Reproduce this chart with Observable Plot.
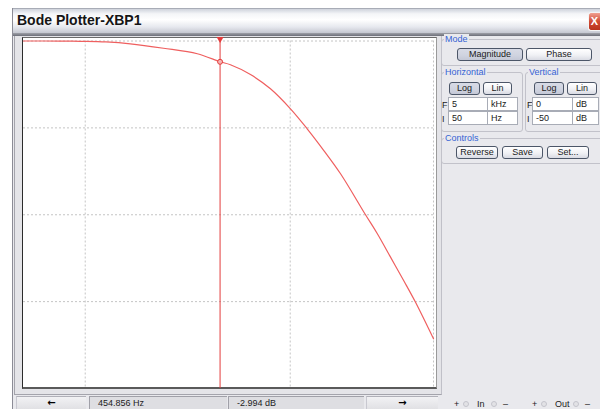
<!DOCTYPE html>
<html><head><meta charset="utf-8">
<script src="https://cdn.jsdelivr.net/npm/d3@7"></script>
<script src="https://cdn.jsdelivr.net/npm/@observablehq/plot@0.6"></script>
<style>
html,body{margin:0;padding:0;width:600px;height:409px;overflow:hidden;background:#fff;font-family:"Liberation Sans",Arial,sans-serif;}
.a{position:absolute;box-sizing:border-box;}
#win{left:12px;top:8px;width:600px;height:420px;background:#e9e9ed;border-left:1px solid #8c8c96;}
#title{left:13px;top:8px;width:600px;height:25px;background:linear-gradient(#cfd3dc,#f4f5f8 20%,#ffffff 45%,#e6e8ee 75%,#c4c7d0);border-top:1px solid #a8acb6;}
#tband{left:13px;top:33px;width:600px;height:3px;background:linear-gradient(#9ea0a8,#6c6e78);}
#titletext{left:17px;top:12px;font-weight:bold;font-size:14px;color:#151515;white-space:nowrap;}
#close{left:588px;top:12px;width:12px;height:19px;border-radius:3px 0 0 3px;background:linear-gradient(#f0a090,#d04a34 50%,#b8321e);border:1px solid #f4f4f4;border-right:none;color:#fff;font-weight:bold;font-size:11px;line-height:16px;text-align:center;}
#outer{left:14px;top:36px;width:428px;height:359px;border-left:1px solid #a4a4ac;border-bottom:1px solid #a4a4ac;border-right:1px solid #c0c0c8;background:#e4e4e8;}
#plotbox{left:22px;top:37px;width:415px;height:352px;background:#fff;border-left:1px solid #2c2c2c;border-top:1px solid #6a6a6a;border-right:1px solid #9a9a9a;border-bottom:2px solid #5a5a5a;}
#chart{position:absolute;left:23px;top:37px;}
.grp{position:absolute;box-sizing:border-box;border:1px solid #c2c2ca;border-radius:3px;}
.lbl{position:absolute;font-size:9px;color:#3563d4;background:#e9e9ed;padding:0 1px;white-space:nowrap;line-height:10px;}
.btn{position:absolute;box-sizing:border-box;border:1px solid #4c5668;border-radius:3px;background:linear-gradient(#ffffff,#f0f1f5 55%,#d9dbe3);font-size:9px;color:#1a1a1a;text-align:center;line-height:11px;white-space:nowrap;}
.btn.on{background:linear-gradient(#d8dbe6,#cfd3df 60%,#c4c8d6);}
.inp{position:absolute;box-sizing:border-box;background:#fff;border:1px solid #a8acb6;font-size:9px;color:#1a1a1a;line-height:12px;padding-left:3px;white-space:nowrap;}
.t{position:absolute;font-size:9px;color:#1a1a1a;white-space:nowrap;line-height:10px;}
.bb{position:absolute;box-sizing:border-box;top:396px;height:16px;background:linear-gradient(#f2f2f4,#dcdce0);border-top:1px solid #b0b0b8;border-left:1px solid #c8c8d0;font-size:10px;line-height:12px;white-space:nowrap;}
.rd{position:absolute;box-sizing:border-box;top:396px;height:16px;background:#dedee2;border-top:1px solid #a0a0a8;border-left:1px solid #a0a0a8;font-size:9px;line-height:12px;color:#222;white-space:nowrap;}
.dot{position:absolute;width:6px;height:6px;border-radius:50%;border:1px solid #c4c4cc;background:#e2e2e6;box-sizing:border-box;}
</style></head>
<body>
<div id="win" class="a"></div>
<div id="title" class="a"></div>
<div id="tband" class="a"></div>
<div id="titletext" class="a">Bode Plotter-XBP1</div>
<div id="close" class="a">X</div>
<div id="outer" class="a"></div>
<div id="plotbox" class="a"></div>
<div id="chart"></div>

<!-- right panel -->
<div class="grp" style="left:441px;top:39px;width:170px;height:27px;"></div>
<div class="lbl" style="left:444px;top:34px;">Mode</div>
<div class="btn on" style="left:457px;top:48px;width:66px;height:13px;">Magnitude</div>
<div class="btn" style="left:526px;top:48px;width:66px;height:13px;">Phase</div>

<div class="grp" style="left:441px;top:72px;width:82px;height:60px;"></div>
<div class="lbl" style="left:444px;top:67px;">Horizontal</div>
<div class="grp" style="left:525px;top:72px;width:86px;height:60px;"></div>
<div class="lbl" style="left:528px;top:67px;">Vertical</div>

<div class="btn on" style="left:449px;top:82px;width:31px;height:13px;">Log</div>
<div class="btn" style="left:483px;top:82px;width:29px;height:13px;">Lin</div>
<div class="btn on" style="left:534px;top:82px;width:30px;height:13px;">Log</div>
<div class="btn" style="left:567px;top:82px;width:30px;height:13px;">Lin</div>

<div class="t" style="left:442px;top:100px;">F</div>
<div class="inp" style="left:448px;top:97px;width:40px;height:14px;">5</div>
<div class="inp" style="left:487px;top:97px;width:31px;height:14px;">kHz</div>
<div class="t" style="left:442px;top:114px;">I</div>
<div class="inp" style="left:448px;top:111px;width:40px;height:14px;">50</div>
<div class="inp" style="left:487px;top:111px;width:31px;height:14px;">Hz</div>

<div class="t" style="left:527px;top:100px;">F</div>
<div class="inp" style="left:532px;top:97px;width:41px;height:14px;">0</div>
<div class="inp" style="left:572px;top:97px;width:27px;height:14px;">dB</div>
<div class="t" style="left:527px;top:114px;">I</div>
<div class="inp" style="left:532px;top:111px;width:41px;height:14px;">-50</div>
<div class="inp" style="left:572px;top:111px;width:27px;height:14px;">dB</div>

<div class="grp" style="left:441px;top:138px;width:170px;height:26px;"></div>
<div class="lbl" style="left:444px;top:133px;">Controls</div>
<div class="btn" style="left:456px;top:146px;width:42px;height:13px;">Reverse</div>
<div class="btn" style="left:502px;top:146px;width:41px;height:13px;">Save</div>
<div class="btn" style="left:547px;top:146px;width:42px;height:13px;">Set...</div>

<!-- bottom bar -->
<div class="bb" style="left:16px;width:70px;text-align:center;font-weight:bold;font-family:'DejaVu Sans';">&#8592;</div>
<div class="rd" style="left:89px;width:138px;padding-left:8px;">454.856 Hz</div>
<div class="rd" style="left:228px;width:136px;padding-left:8px;">-2.994 dB</div>
<div class="bb" style="left:366px;width:72px;text-align:center;font-weight:bold;font-family:'DejaVu Sans';">&#8594;</div>
<div class="t" style="left:454px;top:399px;">+</div>
<div class="dot" style="left:463px;top:401px;"></div>
<div class="t" style="left:477px;top:399px;">In</div>
<div class="dot" style="left:491px;top:401px;"></div>
<div class="t" style="left:503px;top:399px;">&#8211;</div>
<div class="t" style="left:532px;top:399px;">+</div>
<div class="dot" style="left:541px;top:401px;"></div>
<div class="t" style="left:555px;top:399px;">Out</div>
<div class="dot" style="left:573px;top:401px;"></div>
<div class="t" style="left:585px;top:399px;">&#8211;</div>

<script>
// Magnitude response (Hz, dB)
const freqHz = [50, 75, 95, 126, 166, 241, 352, 455, 511, 640, 801, 1003, 1210, 1459, 1760, 2330, 2657, 3086, 3581, 4086, 5000];
const magDb  = [0, -0.01, -0.05, -0.14, -0.40, -1.04, -1.84, -2.99, -3.42, -4.82, -6.88, -9.76, -12.63, -15.76, -19.1, -25.0, -27.7, -31.1, -34.5, -37.6, -42.85];
// Horizontal: Log, F = 5 kHz, I = 50 Hz; Vertical: F = 0 dB, I = -50 dB
const xDomain = [50, 5000];
const yDomain = [-50, 0];
const xGrid = [100, 1000, 5000];
const yGrid = [0, -12.5, -25, -37.5];
const cursorFreq = 454.856;
const cursorDb = -2.994;

const pts = freqHz.map((f, i) => ({f, db: magDb[i]}));
const cur = [{f: cursorFreq, db: cursorDb}];

const chart = Plot.plot({
  width: 413,
  height: 351,
  marginLeft: 0,
  marginRight: 3,
  marginTop: 3.5,
  marginBottom: 0,
  style: {background: "transparent", overflow: "visible"},
  x: {type: "log", domain: xDomain, axis: null},
  y: {domain: yDomain, axis: null},
  marks: [
    Plot.ruleX(xGrid, {stroke: "#c4c4c4", strokeDasharray: "2,2", strokeWidth: 1}),
    Plot.ruleY(yGrid, {stroke: "#c4c4c4", strokeDasharray: "2,2", strokeWidth: 1}),
    Plot.ruleX(cur, {x: "f", stroke: "#e33c3c", strokeWidth: 1, insetTop: -3.5}),
    Plot.line(pts, {x: "f", y: "db", stroke: "#ef5f5f", strokeWidth: 1.2, curve: "catmull-rom"}),
    Plot.dot(cur, {x: "f", y: "db", r: 2.5, stroke: "#e33c3c", fill: "#f6b4b4", strokeWidth: 1}),
    Plot.dot(cur, {x: "f", frameAnchor: "top", dy: -2, symbol: "triangle", rotate: 180, r: 2.6, fill: "#e33c3c", stroke: "none"})
  ]
});
document.getElementById("chart").appendChild(chart);
</script>
</body></html>
